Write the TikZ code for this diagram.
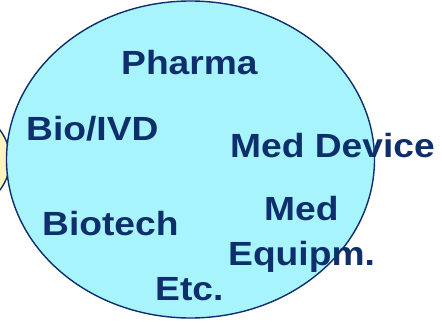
\documentclass[tikz,border=0pt]{standalone}
\usepackage{fontspec}
\setmainfont{Liberation Sans}
\usetikzlibrary{shapes.geometric}
\definecolor{navy}{HTML}{0E2F6C}
\definecolor{skyfill}{HTML}{A8F4FC}
\definecolor{creamfill}{HTML}{FFF4BE}
\tikzset{
  lbl/.style={anchor=base west, inner sep=0pt, text=navy,
    font=\fontsize{33.5}{36}\selectfont\bfseries},
  blob/.style={draw=navy, line width=1.4pt},
}
\newcommand{\wide}[1]{\scalebox{1.11}[1]{#1}}
\begin{document}
\begin{tikzpicture}[x=1pt,y=1pt]
  \useasboundingbox (0,0) rectangle (442,322);
  % neighbouring segment on the left
  \node[blob, fill=creamfill, circle, minimum size=100pt, inner sep=0pt] (side) at (-40,162) {};
  % industry bubble
  \node[blob, fill=skyfill, ellipse, minimum width=368pt, minimum height=317pt, inner sep=0pt] (bubble) at (190.5,162.5) {};
  \node[lbl] (pharma)  at (121,247) {\wide{Pharma}};
  \node[lbl] (biovid)  at (26,182)  {\wide{Bio/IVD}};
  \node[lbl] (device)  at (230,165) {\wide{Med Device}};
  \node[lbl] (med)     at (264,102) {\wide{Med}};
  \node[lbl] (equipm)  at (228,57)  {\wide{Equipm.}};
  \node[lbl] (biotech) at (42,87)   {\wide{Biotech}};
  \node[lbl] (etc)     at (155,22)  {\wide{Etc.}};
\end{tikzpicture}
\end{document}
